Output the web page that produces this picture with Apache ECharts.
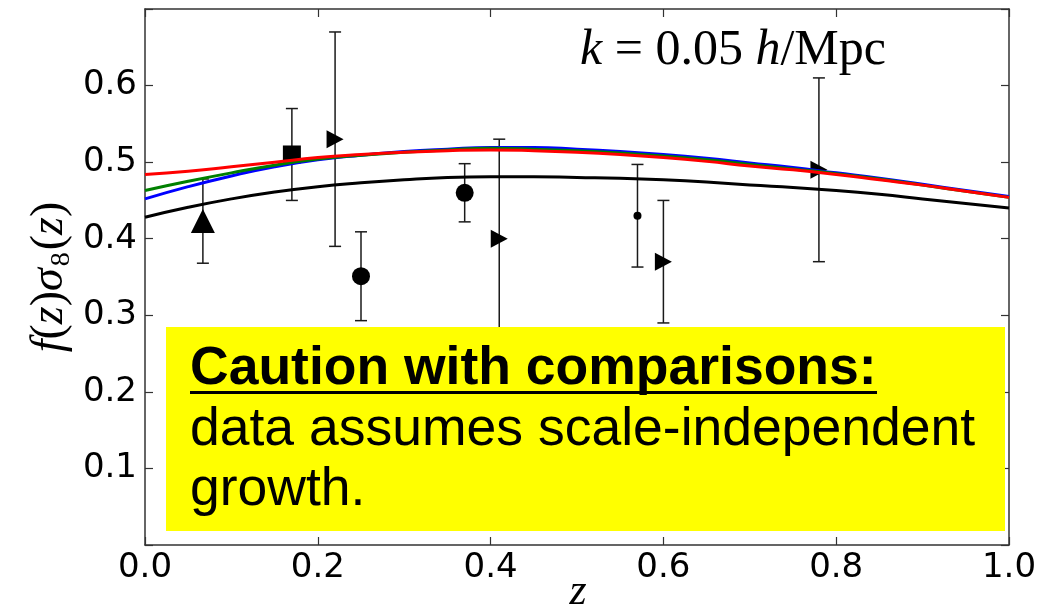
<!DOCTYPE html>
<html>
<head>
<meta charset="utf-8">
<script src="https://cdn.jsdelivr.net/npm/echarts@6/dist/echarts.min.js"></script>
<style>
  html, body { margin: 0; padding: 0; background: #fff; }
  #chart { width: 1044px; height: 608px; }
</style>
</head>
<body>
<div id="chart"></div>
<script>
// model curves f(z)sigma8(z), sampled every 0.05 in z
const zGrid = [0, 0.05, 0.1, 0.15, 0.2, 0.25, 0.3, 0.35, 0.4, 0.45, 0.5,
               0.55, 0.6, 0.65, 0.7, 0.75, 0.8, 0.85, 0.9, 0.95, 1.0];
const curveBlack = [0.428, 0.441, 0.452, 0.461, 0.468, 0.473, 0.477, 0.480, 0.481, 0.481, 0.480,
                    0.479, 0.477, 0.474, 0.470, 0.467, 0.463, 0.458, 0.452, 0.446, 0.440];
const curveBlue  = [0.452, 0.468, 0.482, 0.494, 0.503, 0.509, 0.514, 0.517, 0.519, 0.519, 0.517,
                    0.514, 0.510, 0.505, 0.499, 0.493, 0.486, 0.479, 0.471, 0.463, 0.455];
const curveGreen = [0.463, 0.475, 0.486, 0.496, 0.504, 0.509, 0.513, 0.516, 0.518, 0.517, 0.515,
                    0.512, 0.508, 0.503, 0.497, 0.491, 0.485, 0.478, 0.470, 0.462, 0.454];
const curveRed   = [0.484, 0.488, 0.494, 0.500, 0.506, 0.510, 0.513, 0.515, 0.516, 0.515, 0.513,
                    0.510, 0.506, 0.501, 0.495, 0.490, 0.484, 0.477, 0.470, 0.462, 0.454];

// survey measurements
const surveyZ      = [0.067, 0.17, 0.22, 0.25, 0.37, 0.41, 0.57, 0.60, 0.78];
const surveyF      = [0.423, 0.51, 0.53, 0.351, 0.460, 0.40, 0.43, 0.37, 0.49];
const surveyErr    = [0.055, 0.06, 0.14, 0.058, 0.038, 0.13, 0.067, 0.08, 0.12];
const surveyMarker = ['up', 'square', 'right', 'circle', 'circle', 'right', 'dot', 'right', 'right'];

const yTicks = [0.1, 0.2, 0.3, 0.4, 0.5, 0.6];

const markerStyle = {
  up:     { symbol: 'triangle', size: [24, 24], rotate: 0 },
  square: { symbol: 'rect', size: [18, 18], rotate: 0 },
  right:  { symbol: 'triangle', size: [18, 17], rotate: -90 },
  circle: { symbol: 'circle', size: [18, 18], rotate: 0 },
  dot:    { symbol: 'circle', size: [8, 8], rotate: 0 }
};

function zip(xs, ys) {
  return xs.map((x, i) => [x, ys[i]]);
}

const chart = echarts.init(document.getElementById('chart'));

const pointSeries = Object.keys(markerStyle).map((key) => {
  const st = markerStyle[key];
  const pts = [];
  surveyZ.forEach((z, i) => {
    if (surveyMarker[i] === key) pts.push([z, surveyF[i]]);
  });
  return {
    type: 'scatter',
    symbol: st.symbol,
    symbolSize: st.size,
    symbolRotate: st.rotate,
    itemStyle: { color: '#000', opacity: 1 },
    data: pts,
    z: 3,
    silent: true
  };
});

const lineSeries = [
  ['#000000', curveBlack],
  ['#0000ff', curveBlue],
  ['#008000', curveGreen],
  ['#ff0000', curveRed]
].map(([color, vals]) => ({
  type: 'line',
  data: zip(zGrid, vals),
  smooth: true,
  showSymbol: false,
  lineStyle: { color: color, width: 3 },
  z: 5,
  silent: true
}));

const errorSeries = {
  type: 'custom',
  data: surveyZ.map((z, i) => [z, surveyF[i] - surveyErr[i], surveyF[i] + surveyErr[i]]),
  renderItem: function (params, api) {
    const lo = api.coord([api.value(0), api.value(1)]);
    const hi = api.coord([api.value(0), api.value(2)]);
    const cap = 6;
    const style = { stroke: '#1a1a1a', lineWidth: 1.5 };
    return {
      type: 'group',
      children: [
        { type: 'line', shape: { x1: lo[0], y1: lo[1], x2: hi[0], y2: hi[1] }, style: style },
        { type: 'line', shape: { x1: lo[0] - cap, y1: lo[1], x2: lo[0] + cap, y2: lo[1] }, style: style },
        { type: 'line', shape: { x1: hi[0] - cap, y1: hi[1], x2: hi[0] + cap, y2: hi[1] }, style: style }
      ]
    };
  },
  z: 2,
  silent: true
};

const tickFont = { fontFamily: 'DejaVu Sans', fontSize: 34, color: '#000' };
const frameLine = { show: true, onZero: false, lineStyle: { color: '#333', width: 1.5 } };
const tickStyle = { show: true, inside: true, length: 8, lineStyle: { color: '#333', width: 1.2 } };

chart.setOption({
  animation: false,
  backgroundColor: '#fff',
  grid: { left: 145, top: 9, width: 864, height: 536, containLabel: false },
  xAxis: [
    {
      type: 'value', min: 0, max: 1, interval: 0.2, position: 'bottom',
      axisLine: frameLine, axisTick: tickStyle, splitLine: { show: false },
      axisLabel: Object.assign({ margin: 6, formatter: (v) => v.toFixed(1) }, tickFont)
    },
    {
      type: 'value', min: 0, max: 1, interval: 0.2, position: 'top',
      axisLine: frameLine, axisTick: tickStyle, splitLine: { show: false },
      axisLabel: { show: false }
    }
  ],
  yAxis: [
    {
      type: 'value', min: 0, max: 0.7, interval: 0.1, position: 'left',
      axisLine: frameLine, axisTick: tickStyle, splitLine: { show: false },
      axisLabel: Object.assign({
        margin: 8,
        formatter: (v) => {
          const s = v.toFixed(1);
          return yTicks.some((t) => t.toFixed(1) === s) ? s : '';
        }
      }, tickFont)
    },
    {
      type: 'value', min: 0, max: 0.7, interval: 0.1, position: 'right',
      axisLine: frameLine, axisTick: tickStyle, splitLine: { show: false },
      axisLabel: { show: false }
    }
  ],
  series: [errorSeries].concat(pointSeries, lineSeries),
  graphic: [
    {
      type: 'text', left: 580, top: 26, z: 50,
      style: {
        text: '{i|k} {r|= 0.05} {i|h}{r|/Mpc}',
        rich: {
          i: { fontFamily: 'Liberation Serif', fontStyle: 'italic', fontSize: 50, fill: '#000' },
          r: { fontFamily: 'Liberation Serif', fontSize: 50, fill: '#000' }
        },
        fontFamily: 'Liberation Serif', fontSize: 50
      }
    },
    {
      type: 'text', x: 50, y: 277, rotation: Math.PI / 2, z: 50,
      style: {
        text: '{i|f}{r|(}{i|z}{r|)}{i|σ}{s|8}{r|(}{i|z}{r|)}',
        align: 'center', verticalAlign: 'middle',
        rich: {
          i: { fontFamily: 'Liberation Serif', fontStyle: 'italic', fontSize: 46, fill: '#000' },
          r: { fontFamily: 'Liberation Serif', fontSize: 46, fill: '#000' },
          s: { fontFamily: 'Liberation Serif', fontSize: 28, fill: '#000', padding: [24, 2, 0, 2] }
        }
      }
    },
    {
      type: 'text', x: 578, y: 592, z: 50,
      style: {
        text: 'z', align: 'center', verticalAlign: 'middle',
        fontFamily: 'Liberation Serif', fontStyle: 'italic', fontSize: 44, fill: '#000'
      }
    },
    {
      type: 'rect', z: 100,
      shape: { x: 166, y: 327, width: 839, height: 204 },
      style: { fill: '#ffff00' }
    },
    {
      type: 'text', x: 190, y: 369, z: 101,
      style: {
        text: 'Caution with comparisons:', verticalAlign: 'middle',
        fontFamily: 'Liberation Sans', fontWeight: 'bold', fontSize: 53.5, fill: '#000'
      }
    },
    {
      type: 'rect', z: 101,
      shape: { x: 190, y: 391, width: 687, height: 3 },
      style: { fill: '#000' }
    },
    {
      type: 'text', x: 190, y: 430, z: 101,
      style: {
        text: 'data assumes scale-independent', verticalAlign: 'middle',
        fontFamily: 'Liberation Sans', fontSize: 53.5, fill: '#000'
      }
    },
    {
      type: 'text', x: 190, y: 490, z: 101,
      style: {
        text: 'growth.', verticalAlign: 'middle',
        fontFamily: 'Liberation Sans', fontSize: 53.5, fill: '#000'
      }
    }
  ]
});
</script>
</body>
</html>
